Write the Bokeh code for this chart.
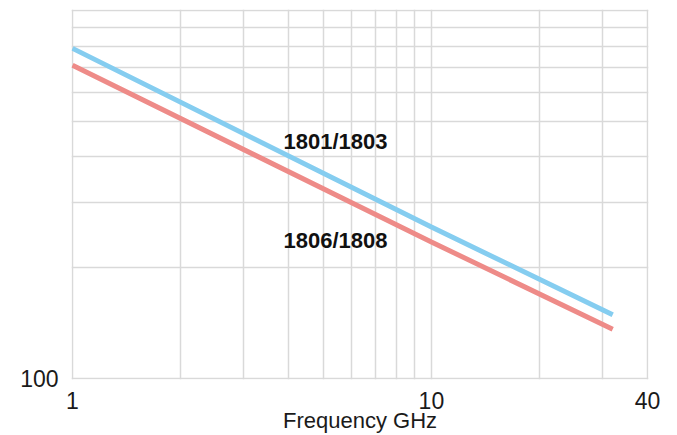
from bokeh.plotting import figure
from bokeh.models import FixedTicker, Range1d, Label
from bokeh.embed import file_html
from bokeh.resources import INLINE

# Data (log-log, frequency GHz vs value)
freq_blue = [1, 10, 32]
val_blue = [789, 258, 149]
freq_red = [1, 10, 32]
val_red = [710, 235, 136]

x_ticks = [1, 10, 40]
x_tick_labels = {1: "1", 10: "10", 40: "40"}
y_ticks = [100]
y_tick_labels = {100: "100"}
x_grid = [1, 2, 3, 4, 5, 6, 7, 8, 9, 10, 20, 30, 40]
y_grid = [100, 200, 300, 400, 500, 600, 700, 800, 900, 1000]

label_top = "1801/1803"
label_bottom = "1806/1808"
x_title = "Frequency GHz"

p = figure(width=677, height=435, x_axis_type="log", y_axis_type="log",
           x_range=Range1d(0.9936, 40.26), y_range=Range1d(99.38, 1006.3),
           output_backend="svg", toolbar_location=None,
           min_border_left=71, min_border_right=29, min_border_top=9, min_border_bottom=55)
p.outline_line_color = None
p.background_fill_color = "white"

for ax in (p.xaxis[0], p.yaxis[0]):
    ax.axis_line_color = None
    ax.major_tick_line_color = None
    ax.minor_tick_line_color = None
    ax.major_label_text_font = "Liberation Sans"
    ax.major_label_text_font_size = "23px"
    ax.major_label_text_color = "#1a1a1a"

p.xaxis[0].ticker = FixedTicker(ticks=x_ticks)
p.xaxis[0].major_label_overrides = x_tick_labels
p.xaxis[0].major_label_standoff = 6
p.xaxis[0].axis_label = x_title
p.xaxis[0].axis_label_text_font = "Liberation Sans"
p.xaxis[0].axis_label_text_font_size = "22px"
p.xaxis[0].axis_label_text_font_style = "normal"
p.xaxis[0].axis_label_text_color = "#1a1a1a"
p.xaxis[0].axis_label_standoff = -4

p.yaxis[0].ticker = FixedTicker(ticks=y_ticks)
p.yaxis[0].major_label_overrides = y_tick_labels
p.yaxis[0].major_label_standoff = 7

p.xgrid[0].ticker = FixedTicker(ticks=x_grid)
p.ygrid[0].ticker = FixedTicker(ticks=y_grid)
for g in (p.xgrid[0], p.ygrid[0]):
    g.grid_line_color = "#d9d9d9"
    g.grid_line_width = 1.5

p.line(freq_red, val_red, line_color="#ee8b88", line_width=5)
p.line(freq_blue, val_blue, line_color="#85cdf0", line_width=5)

p.add_layout(Label(x=3.87, y=441, text=label_top, text_font="Liberation Sans",
                   text_font_size="22px", text_font_style="bold",
                   text_baseline="middle", text_color="#111111"))
p.add_layout(Label(x=3.87, y=237, text=label_bottom, text_font="Liberation Sans",
                   text_font_size="22px", text_font_style="bold",
                   text_baseline="middle", text_color="#111111"))

open("out.html", "w").write(file_html(p, INLINE))
